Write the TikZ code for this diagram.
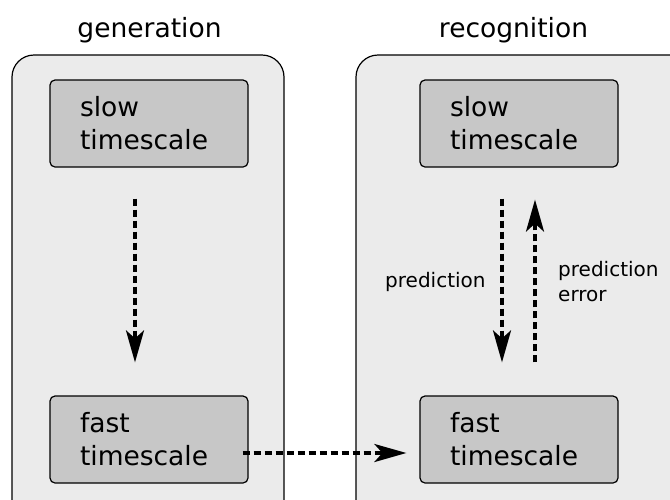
\documentclass[tikz,border=0pt]{standalone}
\usepackage{fontspec}
\setmainfont{DejaVu Sans}
\usetikzlibrary{arrows.meta}
\tikzset{
	panel/.style={draw,line width=1.2pt,fill=black!8,rounded corners=22pt},
	tsbox/.style={draw,line width=1.2pt,fill=black!22,rounded corners=5pt,minimum width=198pt,minimum height=87pt,text width=138pt,inner xsep=30pt,align=left,font=\fontsize{26.5}{33}\selectfont},
	title/.style={inner sep=0pt,font=\fontsize{26.5}{33}\selectfont},
	lbl/.style={inner sep=0pt,font=\fontsize{20}{25}\selectfont},
	flow/.style={line width=3.5pt,dash pattern=on 7pt off 4pt,-{Stealth[length=32pt,width=18pt,inset=8pt]}},
}
\begin{document}
\begin{tikzpicture}[x=1pt,y=-1pt]
	\useasboundingbox (0,0) rectangle (670,499);
	\clip (0,0) rectangle (670,499);
	% the two stages
	\draw[panel] (12,55) rectangle (284,530);
	\draw[panel] (356,55) rectangle (692,530);
	\node[title,anchor=base,name=gen] at (149.5,37) {generation};
	\node[title,anchor=base,name=rec] at (513.5,37) {recognition};
	\foreach \side/\x in {L/149,R/519}{
		\node[tsbox,name=slow\side] at (\x,123.5) {slow\\timescale};
		\node[tsbox,name=fast\side] at (\x,439.5) {fast\\timescale};
	}
	% arrows
	\draw[flow] ([xshift=-14pt,yshift=-31pt]slowL.south)--([xshift=-14pt,yshift=33pt]fastL.north);
	\draw[flow] ([xshift=-17pt,yshift=-31pt]slowR.south)--([xshift=-17pt,yshift=33pt]fastR.north);
	\draw[flow] ([xshift=16pt,yshift=33pt]fastR.north)--([xshift=16pt,yshift=-32pt]slowR.south);
	\draw[flow] ([xshift=-6pt,yshift=-13.5pt]fastL.east)--([xshift=-13pt,yshift=-13.5pt]fastR.west);
	\node[lbl,anchor=base west,name=pred] at (385,287) {prediction};
	\node[lbl,anchor=west,align=left,name=prederr] at (558,281.5) {prediction\\error};
\end{tikzpicture}
\end{document}
